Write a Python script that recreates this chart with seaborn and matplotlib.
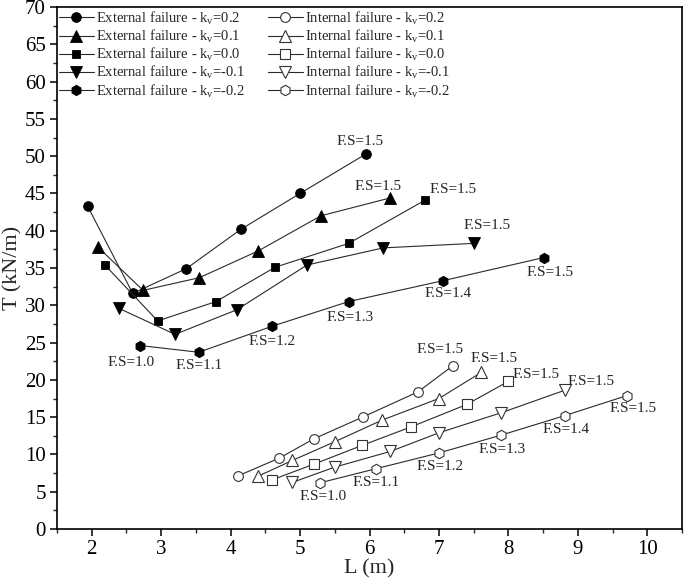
import matplotlib
matplotlib.use("Agg")
import matplotlib.pyplot as plt
import seaborn as sns
import pandas as pd
from matplotlib.ticker import MultipleLocator

# ---------------- data ----------------
kv_values = ["0.2", "0.1", "0.0", "-0.1", "-0.2"]

ext_L_02 = [1.94, 2.59, 3.36, 4.15, 5.00, 5.95]
ext_T_02 = [43.3, 31.6, 34.9, 40.2, 45.0, 50.3]
ext_L_01 = [2.09, 2.74, 3.55, 4.40, 5.30, 6.30]
ext_T_01 = [37.8, 32.0, 33.7, 37.3, 42.0, 44.4]
ext_L_00 = [2.19, 2.95, 3.79, 4.64, 5.70, 6.80]
ext_T_00 = [35.4, 27.9, 30.5, 35.1, 38.3, 44.1]
ext_L_m01 = [2.39, 3.20, 4.09, 5.10, 6.20, 7.50]
ext_T_m01 = [29.6, 26.1, 29.4, 35.4, 37.7, 38.3]
ext_L_m02 = [2.70, 3.54, 4.60, 5.70, 7.06, 8.51]
ext_T_m02 = [24.6, 23.7, 27.2, 30.5, 33.3, 36.4]

int_L_02 = [4.10, 4.70, 5.20, 5.90, 6.70, 7.20]
int_T_02 = [7.1, 9.5, 12.1, 15.0, 18.4, 21.9]
int_L_01 = [4.40, 4.89, 5.50, 6.18, 7.00, 7.61]
int_T_01 = [7.1, 9.2, 11.7, 14.6, 17.5, 21.0]
int_L_00 = [4.60, 5.20, 5.89, 6.60, 7.40, 8.00]
int_T_00 = [6.6, 8.7, 11.2, 13.7, 16.7, 19.8]
int_L_m01 = [4.89, 5.50, 6.30, 7.00, 7.90, 8.81]
int_T_m01 = [6.25, 8.3, 10.4, 12.9, 15.6, 18.6]
int_L_m02 = [5.29, 6.10, 7.00, 7.90, 8.81, 9.71]
int_T_m02 = [6.2, 8.1, 10.2, 12.6, 15.2, 17.9]

fs_labels = ["F.S=1.0", "F.S=1.1", "F.S=1.2", "F.S=1.3", "F.S=1.4", "F.S=1.5"]

ext_L = [ext_L_02, ext_L_01, ext_L_00, ext_L_m01, ext_L_m02]
ext_T = [ext_T_02, ext_T_01, ext_T_00, ext_T_m01, ext_T_m02]
int_L = [int_L_02, int_L_01, int_L_00, int_L_m01, int_L_m02]
int_T = [int_T_02, int_T_01, int_T_00, int_T_m01, int_T_m02]

# ---------------- style ----------------
sns.set_style("ticks")
plt.rcParams["font.family"] = ["Liberation Serif", "DejaVu Serif"]
plt.rcParams["mathtext.fontset"] = "custom"
plt.rcParams["mathtext.rm"] = "Liberation Serif"
plt.rcParams["mathtext.it"] = "Liberation Serif:italic"

markers = ["o", "^", "s", "v", "h"]
ext_ms = [7, 8, 6, 8, 7.5]
int_ms = [7, 8, 6.5, 8, 7.5]
line_color = "#2a2a2a"

fig = plt.figure(figsize=(6.85, 5.84), dpi=100)
ax = fig.add_axes([57 / 685, 55 / 584, (682 - 57) / 685, (529 - 7) / 584])

for i, kv in enumerate(kv_values):
    df = pd.DataFrame({"L": ext_L[i], "T": ext_T[i]})
    sns.lineplot(data=df, x="L", y="T", ax=ax, color=line_color, lw=0.8,
                 marker=markers[i], markersize=ext_ms[i], markerfacecolor="black",
                 markeredgecolor="black", markeredgewidth=0.6, errorbar=None,
                 label="External failure - k$_\\mathregular{v}$=" + kv)
for i, kv in enumerate(kv_values):
    df = pd.DataFrame({"L": int_L[i], "T": int_T[i]})
    sns.lineplot(data=df, x="L", y="T", ax=ax, color=line_color, lw=0.8,
                 marker=markers[i], markersize=int_ms[i], markerfacecolor="white",
                 markeredgecolor="#333333", markeredgewidth=0.8, errorbar=None,
                 label="Internal failure - k$_\\mathregular{v}$=" + kv)

# annotations: (group, series index, point index, dx px, dy px)
ann = [
    ("ext", 0, 5, -6, 12), ("ext", 1, 5, -12, 11.5), ("ext", 2, 5, 28, 10.7),
    ("ext", 3, 5, 13, 18),
    ("ext", 4, 0, -9, -16.6), ("ext", 4, 1, 0, -13.4), ("ext", 4, 2, 0, -15.6),
    ("ext", 4, 3, 1, -15.6), ("ext", 4, 4, 5, -13), ("ext", 4, 5, 6, -15),
    ("int", 0, 5, -13, 15.7), ("int", 1, 5, 13, 13.4), ("int", 2, 5, 27.7, 7),
    ("int", 3, 5, 26.7, 8.7),
    ("int", 4, 0, 2.5, -13.7), ("int", 4, 1, 0, -14), ("int", 4, 2, 1, -13.3),
    ("int", 4, 3, 1, -14), ("int", 4, 4, 1, -14), ("int", 4, 5, 6, -13.3),
]
for grp, s, p, dx, dy in ann:
    Ls = ext_L if grp == "ext" else int_L
    Ts = ext_T if grp == "ext" else int_T
    ax.annotate(fs_labels[p], (Ls[s][p], Ts[s][p]), xytext=(dx, dy),
                textcoords="offset pixels", ha="center", va="center", fontsize=11)

ax.set_xlim(1.5, 10.5)
ax.set_ylim(0, 70)
ax.xaxis.set_major_locator(MultipleLocator(1))
ax.xaxis.set_minor_locator(MultipleLocator(0.5))
ax.yaxis.set_major_locator(MultipleLocator(5))
ax.yaxis.set_minor_locator(MultipleLocator(2.5))
ax.tick_params(which="major", direction="out", length=5, width=1.1, labelsize=15,
               colors="black", pad=3)
ax.tick_params(which="minor", direction="out", length=3, width=1.0)
ax.tick_params(top=False, right=False)
for sp in ax.spines.values():
    sp.set_visible(True)
    sp.set_linewidth(1.2)
    sp.set_color("black")
ax.set_xlabel("L (m)", fontsize=16, labelpad=0)
ax.set_ylabel("T (kN/m)", fontsize=16, labelpad=2)

ax.legend(ncol=2, loc="upper left", bbox_to_anchor=(-0.005, 1.005), frameon=False,
          fontsize=10.5, handlelength=2.4, handletextpad=0.15, columnspacing=1.55,
          labelspacing=0.08, borderaxespad=0.2, borderpad=0.15)

fig.savefig("out.png", dpi=100)
